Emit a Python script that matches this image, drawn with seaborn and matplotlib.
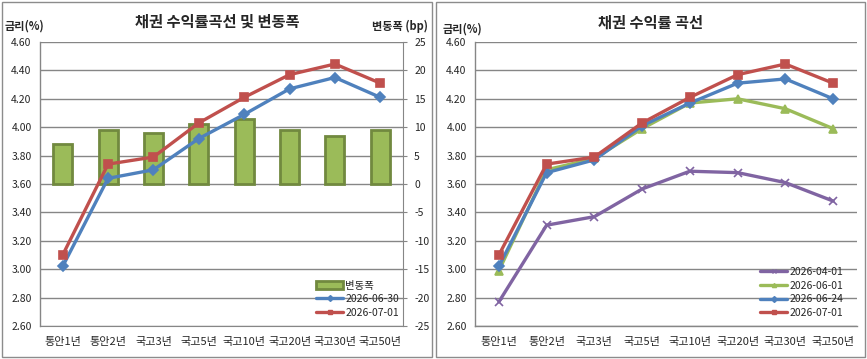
import matplotlib
matplotlib.use("Agg")
import matplotlib.pyplot as plt
from matplotlib.patches import Rectangle, Patch
from matplotlib.lines import Line2D
from matplotlib.ticker import FixedLocator, FormatStrFormatter
import seaborn as sns

sns.set_style("white")
plt.rcParams['font.family'] = ['Noto Sans CJK KR', 'DejaVu Sans']
plt.rcParams['axes.unicode_minus'] = False

# data
tenors = ['통안1년', '통안2년', '국고3년', '국고5년', '국고10년', '국고20년', '국고30년', '국고50년']
change_bp = [7.0, 9.5, 9.0, 10.5, 11.5, 9.5, 8.5, 9.5]
rate_0630 = [3.02, 3.64, 3.70, 3.92, 4.09, 4.27, 4.35, 4.21]
rate_0701 = [3.10, 3.74, 3.79, 4.03, 4.21, 4.37, 4.445, 4.31]
rate_0401 = [2.77, 3.31, 3.37, 3.565, 3.69, 3.68, 3.61, 3.48]
rate_0601 = [2.99, 3.70, 3.78, 3.99, 4.17, 4.20, 4.13, 3.99]
rate_0624 = [3.02, 3.68, 3.77, 4.01, 4.17, 4.31, 4.34, 4.20]

BLUE = '#4F81BD'
RED = '#C0504D'
GREEN = '#9BBB59'
PURPLE = '#8064A2'
OLIVE = '#71893F'
GRID = '#868686'

W, H = 867, 359
fig = plt.figure(figsize=(W / 100, H / 100), dpi=100)


def box(x0, y0, x1, y1):
    return [x0 / W, 1 - y1 / H, (x1 - x0) / W, (y1 - y0) / H]


def style_axes(ax):
    ax.set_facecolor('none')
    for s in ['top', 'right']:
        ax.spines[s].set_visible(False)
    for s in ['left', 'bottom']:
        ax.spines[s].set_color(GRID)
        ax.spines[s].set_linewidth(1)
    ax.set_ylim(2.6, 4.6)
    ax.yaxis.set_major_locator(FixedLocator([2.6 + 0.2 * i for i in range(11)]))
    ax.yaxis.set_major_formatter(FormatStrFormatter('%.2f'))
    ax.tick_params(axis='y', length=0, labelsize=7.5, pad=6)
    ax.set_xlim(-0.5, len(tenors) - 0.5)
    ax.xaxis.set_minor_locator(FixedLocator([i - 0.5 for i in range(len(tenors) + 1)]))
    ax.tick_params(axis='x', which='major', length=0, labelsize=8, pad=8)
    ax.tick_params(axis='x', which='minor', length=4, color=GRID, direction='out')
    ax.set_xlabel('')
    ax.set_ylabel('')


def draw_line(ax, vals, color, marker, ms, label):
    sns.lineplot(x=tenors, y=vals, ax=ax, sort=False, color=color, linewidth=2.4,
                 marker=marker, markersize=ms, markeredgecolor=color,
                 markerfacecolor=color, markeredgewidth=1.2, label=label, legend=False)


# ---------------- left panel ----------------
axL2 = fig.add_axes(box(40, 42, 403, 326))
axL = axL2.twinx()
# bars on the lower axis, rates on top
axL2.yaxis.tick_right()
axL2.yaxis.set_label_position('right')
axL.yaxis.tick_left()
axL.yaxis.set_label_position('left')

sns.barplot(x=tenors, y=change_bp, ax=axL2, color=GREEN, width=0.42,
            edgecolor=OLIVE, linewidth=2.0, saturation=1, zorder=3)
axL2.set_ylim(-25, 25)
axL2.yaxis.set_major_locator(FixedLocator(list(range(-25, 30, 5))))
axL2.grid(axis='y', color=GRID, linewidth=1)
axL2.set_axisbelow(True)
for s in ['top', 'left']:
    axL2.spines[s].set_visible(False)
for s in ['right', 'bottom']:
    axL2.spines[s].set_color(GRID)
axL2.tick_params(axis='y', length=3, color=GRID, labelsize=7.5, pad=5, direction='out')
axL2.tick_params(axis='x', which='major', length=0, labelsize=8, pad=8)
axL2.xaxis.set_minor_locator(FixedLocator([i - 0.5 for i in range(len(tenors) + 1)]))
axL2.tick_params(axis='x', which='minor', length=4, color=GRID, direction='out')
axL2.set_xlabel('')
axL2.set_ylabel('')

draw_line(axL, rate_0630, BLUE, 'D', 5, '2026-06-30')
draw_line(axL, rate_0701, RED, 's', 5.5, '2026-07-01')
style_axes(axL)
axL.spines['bottom'].set_visible(False)
axL.tick_params(axis='x', which='both', labelbottom=False, length=0)
axL.yaxis.tick_left()

handlesL = [Patch(facecolor=GREEN, edgecolor=OLIVE, linewidth=2.0),
            Line2D([], [], color=BLUE, lw=2.4, marker='D', ms=3),
            Line2D([], [], color=RED, lw=2.4, marker='s', ms=3)]
fig.legend(handlesL, ['변동폭', '2026-06-30', '2026-07-01'], loc='upper left',
           bbox_to_anchor=(316 / W, 1 - 280.5 / H), frameon=False, fontsize=7.5,
           handlelength=2.6, handleheight=0.8, handletextpad=0.2,
           labelspacing=0.35, borderpad=0, borderaxespad=0)

fig.text(217 / W, 1 - 22 / H, '채권 수익률곡선 및 변동폭', ha='center', va='center',
         fontsize=11, fontweight='bold')
fig.text(5 / W, 1 - 26 / H, '금리(%)', ha='left', va='center', fontsize=8, fontweight='bold')
fig.text(428 / W, 1 - 26 / H, '변동폭 (bp)', ha='right', va='center', fontsize=8, fontweight='bold')

# ---------------- right panel ----------------
axR = fig.add_axes(box(475, 42, 857, 326))
draw_line(axR, rate_0401, PURPLE, 'x', 6, '2026-04-01')
draw_line(axR, rate_0601, GREEN, '^', 5.5, '2026-06-01')
draw_line(axR, rate_0624, BLUE, 'D', 5, '2026-06-24')
draw_line(axR, rate_0701, RED, 's', 6, '2026-07-01')
style_axes(axR)
axR.grid(axis='y', color=GRID, linewidth=1)
axR.set_axisbelow(True)

handlesR = [Line2D([], [], color=PURPLE, lw=2.4, marker='x', ms=3),
            Line2D([], [], color=GREEN, lw=2.4, marker='^', ms=3),
            Line2D([], [], color=BLUE, lw=2.4, marker='D', ms=3),
            Line2D([], [], color=RED, lw=2.4, marker='s', ms=3)]
fig.legend(handlesR, ['2026-04-01', '2026-06-01', '2026-06-24', '2026-07-01'],
           loc='upper left', bbox_to_anchor=(760 / W, 1 - 267 / H), frameon=False,
           fontsize=7.5, handlelength=2.6, handletextpad=0.2, labelspacing=0.35,
           borderpad=0, borderaxespad=0)

fig.text(651 / W, 1 - 23 / H, '채권 수익률 곡선', ha='center', va='center',
         fontsize=11, fontweight='bold')
fig.text(443 / W, 1 - 29 / H, '금리(%)', ha='left', va='center', fontsize=8, fontweight='bold')

# chart borders
for x0, x1 in [(1.5, 431.5), (435.5, 864.5)]:
    fig.patches.append(Rectangle((x0 / W, 1 - 356.5 / H), (x1 - x0) / W, 354.5 / H,
                                 transform=fig.transFigure, fill=False,
                                 edgecolor='#8c8c8c', linewidth=1))

fig.savefig('out.png', dpi=100, facecolor='white')
